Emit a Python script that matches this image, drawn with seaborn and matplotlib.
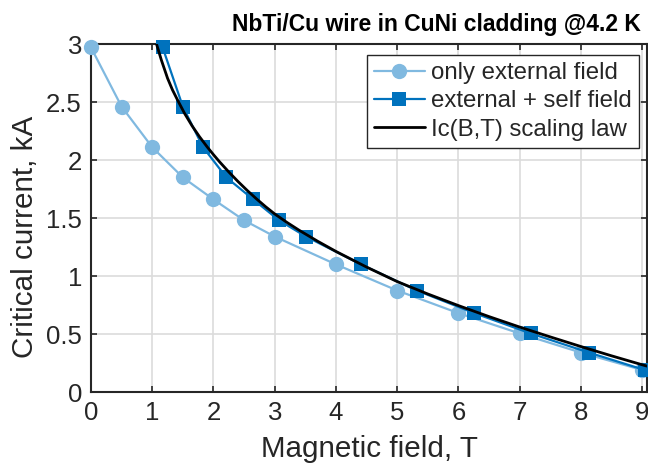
import matplotlib
matplotlib.use("Agg")
import matplotlib.pyplot as plt
import seaborn as sns
import pandas as pd
from matplotlib.ticker import FormatStrFormatter

# Data
field_ext = [0, 0.5, 1, 1.5, 2, 2.5, 3, 4, 5, 6, 7, 8, 9]
ic_ext = [2.97, 2.46, 2.11, 1.85, 1.66, 1.48, 1.34, 1.10, 0.875, 0.68, 0.505, 0.34, 0.19]
field_self = [1.17, 1.50, 1.83, 2.21, 2.65, 3.07, 3.51, 4.41, 5.32, 6.26, 7.18, 8.13, 9.04]
ic_self = [2.97, 2.46, 2.11, 1.85, 1.66, 1.48, 1.34, 1.10, 0.875, 0.68, 0.505, 0.34, 0.19]
field_law = [1.07, 1.15, 1.25, 1.33, 1.42, 1.53, 1.65, 1.77, 1.9, 2.0, 2.1, 2.25,
             2.4, 2.55, 2.7, 2.85, 3.0, 3.2, 3.4, 3.7, 4.0, 4.5, 5.0, 5.5, 6.0,
             6.5, 7.0, 7.5, 8.0, 8.5, 9.0, 9.08]
ic_law = [3.0, 2.86, 2.705, 2.605, 2.51, 2.40, 2.295, 2.202, 2.111, 2.046, 1.984, 1.897,
          1.815, 1.738, 1.666, 1.598, 1.535, 1.462, 1.394, 1.30, 1.212, 1.077, 0.952, 0.845, 0.745,
          0.65, 0.56, 0.475, 0.392, 0.312, 0.235, 0.223]
labels = ["only external field", "external + self field", "Ic(B,T) scaling law"]
title = "NbTi/Cu wire in CuNi cladding @4.2 K"

sns.set_theme(style="white")
plt.rcParams['font.family'] = ['Liberation Sans', 'DejaVu Sans']

W, H = 648, 467
fig = plt.figure(figsize=(W / 100, H / 100), dpi=100)
ax = fig.add_axes([91 / W, 75 / H, 556 / W, 348 / H])

df_ext = pd.DataFrame({"x": field_ext, "y": ic_ext})
df_self = pd.DataFrame({"x": field_self, "y": ic_self})
df_law = pd.DataFrame({"x": field_law, "y": ic_law})

sns.lineplot(data=df_ext, x="x", y="y", ax=ax, sort=False, color="#80B9E0",
             marker="o", markersize=11, markeredgewidth=0, linewidth=1.6,
             label=labels[0], clip_on=False, zorder=3)
sns.lineplot(data=df_self, x="x", y="y", ax=ax, sort=False, color="#0072BD",
             marker="s", markersize=10, markeredgewidth=0, linewidth=1.6,
             label=labels[1], clip_on=False, zorder=4)
sns.lineplot(data=df_law, x="x", y="y", ax=ax, sort=False, color="black",
             linewidth=2.0, label=labels[2], zorder=5)

ax.set_xlim(0, 9.08)
ax.set_ylim(0, 3)
ax.set_xticks(range(0, 10))
ax.set_yticks([0, 0.5, 1, 1.5, 2, 2.5, 3])
ax.yaxis.set_major_formatter(FormatStrFormatter('%g'))
ax.grid(True, color="#DCDCDC", linewidth=1.2)
ax.set_axisbelow(True)
for s in ax.spines.values():
    s.set_color("#262626")
    s.set_linewidth(1.5)
    s.set_visible(True)
ax.tick_params(direction="in", length=4.5, width=1.2, colors="#262626",
               labelsize=18.5, top=True, right=True, bottom=True, left=True,
               labelcolor="#262626")
ax.tick_params(axis="x", pad=6.5)
ax.tick_params(axis="y", pad=6.5)
ax.set_xlabel("Magnetic field, T", fontsize=21.3, color="#262626", labelpad=7)
ax.set_ylabel("Critical current, kA", fontsize=21.3, color="#262626")
ax.yaxis.set_label_coords(-0.094, 0.445)

fig.text(436 / W, 1 - 31 / H, title, ha="center", va="baseline",
         fontsize=16.5, fontweight="bold", color="black")

leg = ax.legend(loc="upper left", bbox_to_anchor=(367 / W, 1 - 55 / H),
                bbox_transform=fig.transFigure, fontsize=17.3, frameon=True,
                fancybox=False, borderpad=0.3, labelspacing=0.26,
                handlelength=2.1, handletextpad=0.25, borderaxespad=0)
leg.get_frame().set_edgecolor("#262626")
leg.get_frame().set_linewidth(1.0)
leg.get_frame().set_alpha(1)

fig.savefig("out.png", dpi=100)
